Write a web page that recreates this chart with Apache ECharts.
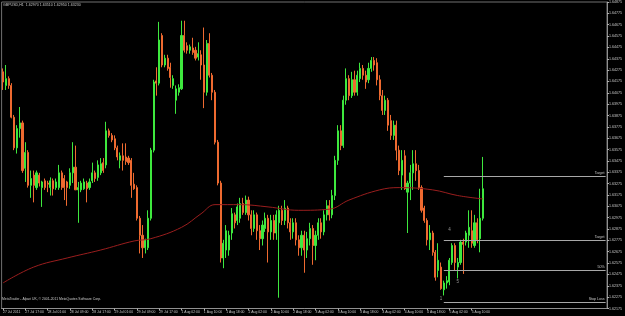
<!DOCTYPE html>
<html><head><meta charset="utf-8">
<script src="https://cdn.jsdelivr.net/npm/echarts@6.0.0/dist/echarts.min.js"></script>
<style>html,body{margin:0;padding:0;background:#000}#c{width:625px;height:316px}</style>
</head><body><div id="c"></div>
<script>
const tickLabels = ["27 Jul 2011","27 Jul 17:00","28 Jul 01:00","28 Jul 09:00","28 Jul 17:00","29 Jul 01:00","29 Jul 09:00","29 Jul 17:00","1 Aug 02:00","1 Aug 10:00","1 Aug 18:00","2 Aug 02:00","2 Aug 10:00","2 Aug 18:00","3 Aug 02:00","3 Aug 10:00","3 Aug 18:00","4 Aug 02:00","4 Aug 10:00","4 Aug 18:00","5 Aug 02:00","5 Aug 10:00"];

const opens = [1.6426,1.6414,1.6420,1.6414,1.6386,1.6359,1.6376,1.6381,1.6341,1.6355,
1.6326,1.6335,1.6324,1.6335,1.6324,1.6330,1.6328,1.6324,1.6330,1.6324,
1.6324,1.6337,1.6332,1.6329,1.6326,1.6337,1.6342,1.6322,1.6322,1.6323,
1.6328,1.6324,1.6330,1.6337,1.6333,1.6337,1.6346,1.6344,1.6374,1.6370,
1.6367,1.6359,1.6348,1.6352,1.6351,1.6350,1.6348,1.6327,1.6324,1.6297,
1.6282,1.6271,1.6271,1.6297,1.6357,1.6418,1.6416,1.6458,1.6432,1.6438,
1.6430,1.6414,1.6401,1.6408,1.6411,1.6458,1.6449,1.6445,1.6447,1.6445,
1.6439,1.6441,1.6432,1.6408,1.6451,1.6423,1.6408,1.6364,1.6328,1.6262,
1.6269,1.6269,1.6284,1.6300,1.6295,1.6297,1.6310,1.6302,1.6313,1.6300,
1.6288,1.6300,1.6286,1.6279,1.6288,1.6297,1.6285,1.6295,1.6284,1.6293,
1.6304,1.6295,1.6306,1.6293,1.6285,1.6293,1.6278,1.6271,1.6282,1.6269,
1.6279,1.6288,1.6273,1.6282,1.6293,1.6285,1.6300,1.6308,1.6300,1.6317,
1.6348,1.6374,1.6361,1.6401,1.6420,1.6405,1.6419,1.6408,1.6420,1.6429,
1.6423,1.6419,1.6429,1.6436,1.6434,1.6419,1.6405,1.6392,1.6401,1.6383,
1.6370,1.6379,1.6357,1.6335,1.6352,1.6320,1.6328,1.6337,1.6345,1.6339,
1.6324,1.6306,1.6295,1.6278,1.6284,1.6267,1.6251,1.6254,1.6234,1.6240,
1.6241,1.6258,1.6273,1.6254,1.6258,1.6276,1.6276,1.6282,1.6286,1.6273,
1.6293,1.6279,1.6297];

const closes = [1.6417,1.6420,1.6414,1.6386,1.6359,1.6376,1.6381,1.6339,1.6355,1.6326,
1.6332,1.6326,1.6337,1.6328,1.6329,1.6324,1.6327,1.6330,1.6323,1.6329,
1.6337,1.6324,1.6324,1.6324,1.6337,1.6342,1.6322,1.6324,1.6328,1.6329,
1.6323,1.6329,1.6337,1.6332,1.6344,1.6345,1.6339,1.6374,1.6370,1.6366,
1.6359,1.6351,1.6352,1.6348,1.6347,1.6346,1.6326,1.6323,1.6297,1.6282,
1.6271,1.6278,1.6297,1.6357,1.6417,1.6416,1.6454,1.6432,1.6438,1.6429,
1.6421,1.6420,1.6411,1.6412,1.6458,1.6445,1.6445,1.6448,1.6443,1.6438,
1.6442,1.6432,1.6408,1.6451,1.6423,1.6408,1.6364,1.6328,1.6262,1.6275,
1.6286,1.6282,1.6301,1.6293,1.6307,1.6310,1.6302,1.6313,1.6300,1.6288,
1.6300,1.6286,1.6279,1.6291,1.6297,1.6285,1.6295,1.6284,1.6300,1.6304,
1.6295,1.6306,1.6293,1.6285,1.6293,1.6278,1.6271,1.6282,1.6269,1.6279,
1.6288,1.6273,1.6282,1.6293,1.6285,1.6300,1.6308,1.6300,1.6317,1.6348,
1.6374,1.6361,1.6401,1.6420,1.6405,1.6419,1.6408,1.6423,1.6429,1.6423,
1.6417,1.6429,1.6436,1.6432,1.6419,1.6405,1.6392,1.6401,1.6379,1.6370,
1.6379,1.6357,1.6339,1.6348,1.6323,1.6328,1.6337,1.6345,1.6339,1.6324,
1.6304,1.6295,1.6278,1.6284,1.6267,1.6245,1.6260,1.6235,1.6240,1.6242,
1.6260,1.6273,1.6258,1.6258,1.6276,1.6274,1.6284,1.6289,1.6275,1.6293,
1.6278,1.6297,1.6323];

const highs = [1.6429,1.6432,1.6422,1.6416,1.6388,1.6379,1.6395,1.6383,1.6364,1.6357,
1.6339,1.6339,1.6339,1.6337,1.6330,1.6332,1.6330,1.6333,1.6332,1.6332,
1.6344,1.6339,1.6335,1.6330,1.6341,1.6364,1.6361,1.6329,1.6330,1.6332,
1.6330,1.6332,1.6346,1.6339,1.6348,1.6350,1.6350,1.6382,1.6376,1.6372,
1.6370,1.6361,1.6355,1.6363,1.6363,1.6352,1.6350,1.6337,1.6326,1.6299,
1.6291,1.6279,1.6304,1.6359,1.6419,1.6430,1.6470,1.6460,1.6441,1.6441,
1.6434,1.6423,1.6414,1.6415,1.6471,1.6471,1.6452,1.6450,1.6456,1.6448,
1.6452,1.6445,1.6465,1.6454,1.6460,1.6425,1.6410,1.6366,1.6330,1.6278,
1.6291,1.6286,1.6306,1.6302,1.6310,1.6315,1.6315,1.6317,1.6316,1.6304,
1.6304,1.6302,1.6291,1.6295,1.6302,1.6300,1.6300,1.6300,1.6304,1.6308,
1.6308,1.6313,1.6308,1.6297,1.6297,1.6297,1.6282,1.6286,1.6286,1.6285,
1.6293,1.6291,1.6286,1.6297,1.6297,1.6304,1.6313,1.6313,1.6322,1.6352,
1.6379,1.6379,1.6405,1.6429,1.6423,1.6426,1.6427,1.6427,1.6434,1.6432,
1.6427,1.6434,1.6439,1.6439,1.6438,1.6423,1.6410,1.6405,1.6403,1.6388,
1.6383,1.6383,1.6361,1.6357,1.6357,1.6330,1.6344,1.6357,1.6357,1.6344,
1.6326,1.6308,1.6297,1.6291,1.6286,1.6269,1.6275,1.6258,1.6242,1.6246,
1.6262,1.6275,1.6275,1.6262,1.6278,1.6279,1.6286,1.6304,1.6304,1.6300,
1.6297,1.6323,1.6351];

const lows = [1.6410,1.6410,1.6411,1.6385,1.6357,1.6354,1.6368,1.6337,1.6329,1.6324,
1.6315,1.6311,1.6322,1.6325,1.6307,1.6322,1.6320,1.6317,1.6317,1.6322,
1.6322,1.6322,1.6313,1.6308,1.6323,1.6328,1.6322,1.6293,1.6320,1.6322,
1.6311,1.6322,1.6328,1.6329,1.6330,1.6335,1.6337,1.6341,1.6368,1.6364,
1.6357,1.6348,1.6341,1.6339,1.6344,1.6344,1.6315,1.6322,1.6295,1.6266,
1.6262,1.6266,1.6269,1.6295,1.6355,1.6405,1.6414,1.6430,1.6430,1.6427,
1.6412,1.6411,1.6389,1.6405,1.6410,1.6443,1.6442,1.6442,1.6441,1.6436,
1.6436,1.6419,1.6394,1.6405,1.6421,1.6401,1.6362,1.6326,1.6258,1.6253,
1.6262,1.6264,1.6278,1.6288,1.6291,1.6293,1.6300,1.6300,1.6295,1.6282,
1.6285,1.6278,1.6269,1.6273,1.6285,1.6258,1.6278,1.6278,1.6278,1.6227,
1.6291,1.6291,1.6288,1.6278,1.6279,1.6273,1.6264,1.6264,1.6249,1.6262,
1.6273,1.6256,1.6260,1.6278,1.6279,1.6282,1.6295,1.6295,1.6297,1.6313,
1.6344,1.6357,1.6359,1.6397,1.6401,1.6403,1.6405,1.6405,1.6417,1.6419,
1.6411,1.6416,1.6426,1.6427,1.6414,1.6401,1.6388,1.6388,1.6374,1.6366,
1.6366,1.6348,1.6335,1.6322,1.6322,1.6284,1.6313,1.6322,1.6330,1.6322,
1.6302,1.6293,1.6273,1.6269,1.6264,1.6242,1.6245,1.6234,1.6229,1.6235,
1.6238,1.6256,1.6251,1.6244,1.6256,1.6248,1.6273,1.6271,1.6271,1.6271,
1.6275,1.6267,1.6295];

// moving average, read at sparse bars
const maIndex = [0,11,23,35,47,53,64,71,76,85,95,106,117,124,135,142,154,163,172];
const maValues = [1.6240,1.6254,1.6262,1.6269,1.6277,1.6279,1.6289,1.6301,1.6309,1.6309,1.6307,1.6304,1.6305,1.6313,1.6322,1.6324,1.6322,1.6317,1.6314];

// horizontal levels
const levelNames = ["Target","Target","50%","Stop Loss"];
const levelPrices = [1.6334,1.6278,1.6251,1.6223];
const levelStart = 158;

// wave marks
const waveNames = ["1","4","5"];
const waveIndex = [157,160,163];
const wavePrices = [1.6226,1.6287,1.6241];

const titleText = "GBPUSD,H1  1.62970 1.63510 1.62950 1.63230";
const footerText = "MetaTrader - Alpari UK, \u00a9 2001-2011 MetaQuotes Software Corp.";

const yMin = 1.62175, yMax = 1.64875, yStep = 0.001;
const N = 217;
const categories = Array.from({length: N}, (_, i) => (i % 8 === 0 && tickLabels[i / 8]) ? tickLabels[i / 8] : '');
const candleData = opens.map((o, i) => [o, closes[i], lows[i], highs[i]]);
const lastClose = closes[closes.length - 1];

const showTick = (idx) => idx % 8 === 0 && !!tickLabels[idx / 8];
const txt = '#c8c8c8';
const font = 'Liberation Sans';

const chart = echarts.init(document.getElementById('c'), null, {renderer: 'canvas', devicePixelRatio: 1});
chart.setOption({
  backgroundColor: '#000000',
  animation: false,
  textStyle: {fontFamily: font},
  title: [
    {text: titleText, left: 3, top: 3, padding: 0, textStyle: {fontSize: 3.6, color: txt, fontWeight: 'normal', fontFamily: font}},
    {text: footerText, left: 2, top: 298, padding: 0, textStyle: {fontSize: 3.4, color: txt, fontWeight: 'normal', fontFamily: font}}
  ],
  grid: {left: 1, top: 2, width: 610, height: 306.5, show: true, borderColor: '#707070', borderWidth: 1, backgroundColor: '#000'},
  xAxis: {
    type: 'category', data: categories, boundaryGap: true,
    axisLine: {show: true, lineStyle: {color: '#909090', width: 1}},
    axisTick: {show: true, interval: showTick, alignWithLabel: true, length: 2, lineStyle: {color: '#b0b0b0'}},
    axisLabel: {interval: showTick, align: 'left', fontSize: 3.4, color: txt, margin: 2, fontFamily: font},
    splitLine: {show: false}
  },
  yAxis: {
    type: 'value', position: 'right', min: yMin, max: yMax, interval: yStep,
    axisLine: {show: true, lineStyle: {color: '#909090', width: 1}},
    axisTick: {show: true, length: 2, lineStyle: {color: '#b0b0b0'}},
    axisLabel: {fontSize: 3.6, color: txt, margin: 2, fontFamily: font, showMinLabel: true, showMaxLabel: true,
      formatter: v => v.toFixed(5)},
    splitLine: {show: false}
  },
  series: [
    {
      type: 'candlestick', data: candleData, barWidth: 1.6,
      itemStyle: {color: '#3ee83e', color0: '#ee6a30', borderColor: '#3ee83e', borderColor0: '#ee6a30', borderWidth: 1},
      markLine: {
        silent: true, symbol: ['none', 'none'], animation: false,
        data: levelPrices.map((p, k) => [
          {coord: [levelStart, p], name: levelNames[k],
           lineStyle: {color: '#a8a8a8', width: 1, type: 'solid'},
           label: {show: true, position: 'insideEndTop', formatter: '{b}', fontSize: 3.6, color: txt, distance: 1}},
          {coord: [N - 1, p]}
        ]).concat([
          {yAxis: lastClose, lineStyle: {opacity: 0},
           label: {show: true, position: 'end', distance: 2, formatter: p => p.value.toFixed(5),
             fontSize: 3.6, color: '#000', backgroundColor: '#ffffff', padding: [0, 1]}}
        ])
      }
    },
    {
      type: 'line', data: maIndex.map((x, k) => [x, maValues[k]]), smooth: 0.4, symbol: 'none', z: 3,
      lineStyle: {color: '#9a1e1e', width: 1}
    },
    {
      type: 'scatter', data: waveIndex.map((x, k) => [x, wavePrices[k]]), symbolSize: 0, z: 4,
      label: {show: true, position: 'inside', formatter: p => waveNames[p.dataIndex], fontSize: 4.5, color: '#b8b8b8'}
    }
  ]
});
</script>
</body></html>
